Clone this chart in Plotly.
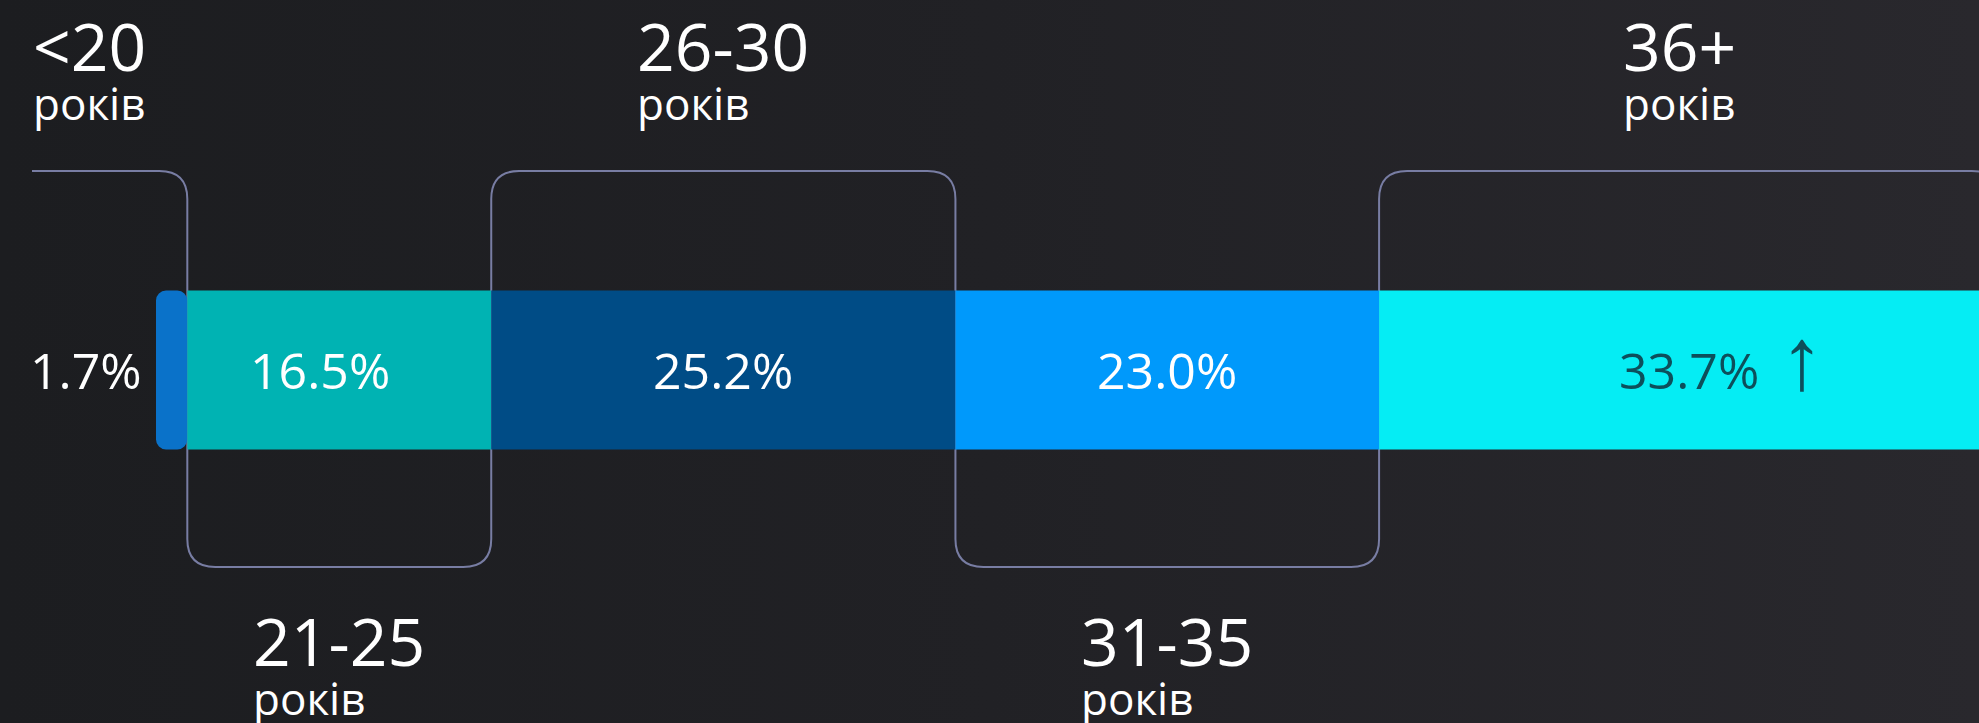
import base64
import plotly.graph_objects as go

# age groups and their share of the total, %
groups = ["<20", "21-25", "26-30", "31-35", "36+"]
shares = [1.7, 16.5, 25.2, 23.0, 33.7]
unit_label = "років"
bar_colors = ["#0a72c9", "#00b3b3", "#004c86", "#0099fb", "#05edf4"]
text_colors = ["#ffffff", "#ffffff", "#ffffff", "#ffffff", "#0d4f5b"]
value_shift = [0, -19, 0, 0, 0]   # small nudges of the value labels, px

W, H = 1979, 723
BAR_LEFT = 156      # px where 0% sits
PX = 18.42          # px per percentage point
BAR_MID = 370       # px from top
BAR_H = 159
R = 28              # bracket corner radius, px
TOP = BAR_MID - 171     # y of upper brackets (data units = px)
BOTTOM = BAR_MID - 567  # y of lower brackets
LINE = "#787da3"
FONT = "Open Sans"

x_min = -BAR_LEFT / PX
x_max = (W - BAR_LEFT) / PX

starts = []
acc = 0.0
for v in shares:
    starts.append(acc)
    acc += v

fig = go.Figure()

for i, (g, v, c) in enumerate(zip(groups, shares, bar_colors)):
    if i == 0:
        # drawn right-to-left so the rounded end lands on the left edge
        fig.add_trace(go.Bar(
            y=[0], x=[-v], base=[starts[i] + v], orientation="h", width=BAR_H,
            marker=dict(color=c, cornerradius=10, line=dict(width=0)),
            hoverinfo="skip", name=g,
        ))
    else:
        fig.add_trace(go.Bar(
            y=[0], x=[v], base=[starts[i]], orientation="h", width=BAR_H,
            marker=dict(color=c, line=dict(width=0)),
            hoverinfo="skip", name=g,
        ))


def bracket(x0, x1, y, open_left=None):
    rx = R / PX
    ry = R if y > 0 else -R
    if open_left is not None:
        p = f"M{open_left},{y} "
    else:
        p = f"M{x0},0 L{x0},{y - ry} Q{x0},{y} {x0 + rx},{y} "
    p += f"L{x1 - rx},{y} Q{x1},{y} {x1},{y - ry} L{x1},0"
    return p


shapes = []
annotations = []
for i, (g, v) in enumerate(zip(groups, shares)):
    x0, x1 = starts[i], starts[i] + v
    up = i % 2 == 0
    y = TOP if up else BOTTOM
    shapes.append(dict(
        type="path", xref="x", yref="y", layer="below",
        path=bracket(x0, x1, y, open_left=(32 - BAR_LEFT) / PX if i == 0 else None),
        line=dict(color=LINE, width=2),
    ))

    # value label
    vfont = dict(size=50, color=text_colors[i])
    if i == 0:
        annotations.append(dict(x=x0, y=0, xanchor="right", xshift=-12,
                                text=f"{v:.1f}%", font=vfont))
    else:
        annotations.append(dict(x=(x0 + x1) / 2, y=0, xanchor="center",
                                xshift=value_shift[i], text=f"{v:.1f}%", font=vfont))
    if i == len(groups) - 1:
        # growth marker next to the last value
        annotations.append(dict(x=(x0 + x1) / 2, y=0, xanchor="center", xshift=113,
                                yshift=15, text="↑",
                                font=dict(size=88, color=text_colors[i])))

    # age label
    label = (f"<span style='font-size:66px'>{g}</span><br>"
             f"<span style='font-size:44px'>{unit_label}</span>")
    if up:
        ly, lshift = BAR_MID - 10, 12
    else:
        ly, lshift = BAR_MID - 593, 0
    if i == 0:
        annotations.append(dict(x=x0, y=ly, yshift=lshift, xanchor="right", xshift=-8,
                                yanchor="top", align="left", text=label,
                                font=dict(size=38, color="#ffffff")))
    else:
        cx = (x0 + min(x1, x_max)) / 2
        annotations.append(dict(x=cx, y=ly, yshift=lshift, xanchor="center",
                                yanchor="top", align="left", text=label,
                                font=dict(size=38, color="#ffffff")))

for a in annotations:
    a.update(xref="x", yref="y", showarrow=False)
    a.setdefault("yanchor", "middle")

bg_svg = (
    f"<svg xmlns='http://www.w3.org/2000/svg' width='{W}' height='{H}'>"
    "<defs><linearGradient id='g' x1='0' x2='1' y1='0' y2='0'>"
    "<stop offset='0' stop-color='#1c1d20'/>"
    "<stop offset='0.5' stop-color='#212125'/>"
    "<stop offset='1' stop-color='#29282d'/>"
    "</linearGradient></defs>"
    "<rect width='100%' height='100%' fill='url(#g)'/></svg>"
)
bg_uri = "data:image/svg+xml;base64," + base64.b64encode(bg_svg.encode()).decode()

fig.update_layout(
    width=W, height=H,
    margin=dict(l=0, r=0, t=0, b=0),
    barmode="overlay",
    showlegend=False,
    paper_bgcolor="#1f1f23",
    plot_bgcolor="rgba(0,0,0,0)",
    font=dict(family=FONT, color="#ffffff"),
    xaxis=dict(range=[x_min, x_max], visible=False, fixedrange=True),
    yaxis=dict(range=[BAR_MID - H, BAR_MID], visible=False, fixedrange=True),
    shapes=shapes,
    annotations=annotations,
    images=[dict(source=bg_uri, xref="paper", yref="paper", x=0, y=1,
                 sizex=1, sizey=1, sizing="stretch", xanchor="left", yanchor="top",
                 layer="below")],
)

fig.write_html(
    "out.html",
    config={"displayModeBar": False},
    post_script="document.body.style.margin='0';document.body.style.overflow='hidden';"
                "document.body.style.background='#1f1f23';",
)
